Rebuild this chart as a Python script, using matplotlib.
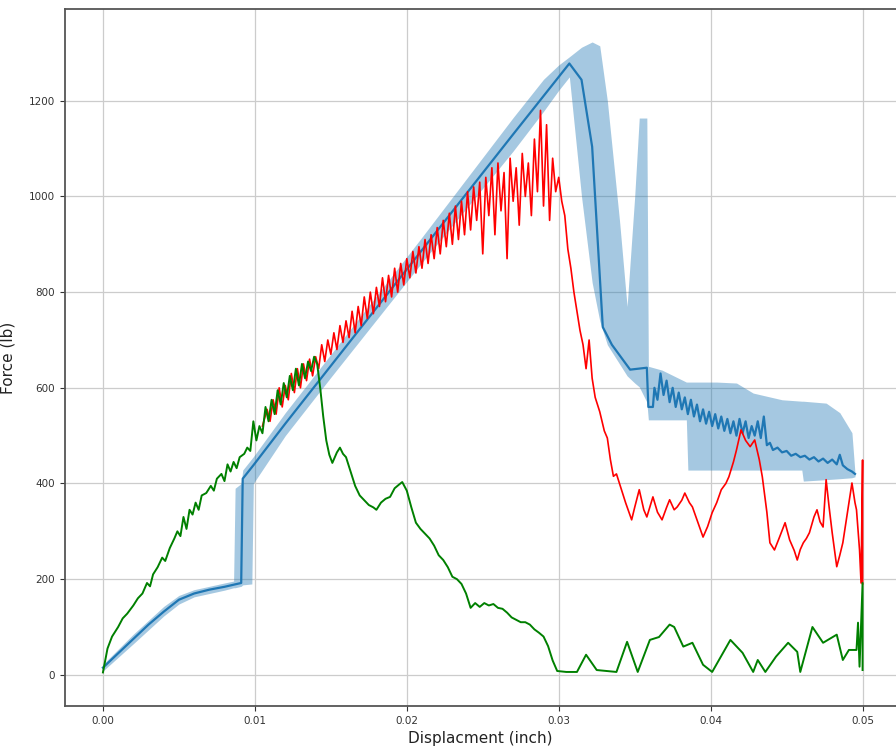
import matplotlib
matplotlib.use('Agg')
import matplotlib.pyplot as plt

# Green test
green_x = [0.0000, 0.0003, 0.0006, 0.0010, 0.0013, 0.0016, 0.0020, 0.0023, 0.0026, 0.0029,
           0.0031, 0.0033, 0.0036, 0.0039, 0.0041, 0.0044, 0.0047, 0.0049, 0.0051, 0.0053,
           0.0055, 0.0057, 0.0059, 0.0061, 0.0063, 0.0065, 0.0068, 0.0071, 0.0073, 0.0075,
           0.0078, 0.0080, 0.0082, 0.0084, 0.0086, 0.0088, 0.0090, 0.0093, 0.0095, 0.0097,
           0.0099, 0.0101, 0.0103, 0.0105, 0.0107, 0.0109, 0.0111, 0.0113, 0.0115, 0.0117,
           0.0119, 0.0121, 0.0123, 0.0125, 0.0127, 0.0129, 0.0131, 0.0133, 0.0135, 0.0137,
           0.0139, 0.0141, 0.0143, 0.0145, 0.0147, 0.0149, 0.0151, 0.0154, 0.0156, 0.0158,
           0.0160, 0.0163, 0.0166, 0.0169, 0.0172, 0.0175, 0.0178, 0.0180, 0.0183, 0.0186,
           0.0189, 0.0192, 0.0195, 0.0197, 0.0200, 0.0203, 0.0206, 0.0209, 0.0212, 0.0215,
           0.0218, 0.0221, 0.0224, 0.0227, 0.0230, 0.0233, 0.0236, 0.0239, 0.0242, 0.0245,
           0.0248, 0.0251, 0.0254, 0.0257, 0.0260, 0.0263, 0.0266, 0.0269, 0.0272, 0.0275,
           0.0278, 0.0281, 0.0284, 0.0287, 0.0290, 0.0293, 0.0296, 0.0299, 0.0305, 0.0312,
           0.0318, 0.0325, 0.0338, 0.0345, 0.0352, 0.0360, 0.0366, 0.0373, 0.0376, 0.0382,
           0.0388, 0.0395, 0.0401, 0.0413, 0.0421, 0.0428, 0.0431, 0.0436, 0.0443, 0.0451,
           0.0457, 0.0459, 0.0467, 0.0474, 0.0483, 0.0487, 0.0491, 0.0496, 0.0497, 0.0498,
           0.0500, 0.0500]
green_y = [5, 55, 80, 100, 118, 128, 145, 160, 170, 192,
           185, 210, 225, 245, 238, 265, 285, 300, 290, 330,
           305, 345, 335, 360, 345, 375, 380, 395, 385, 410,
           420, 405, 440, 425, 445, 432, 455, 462, 475, 468,
           530, 490, 520, 505, 560, 530, 575, 545, 595, 565,
           610, 580, 625, 595, 640, 605, 650, 620, 655, 635,
           665, 650, 600, 540, 490, 460, 443, 465, 475, 462,
           455, 425, 395, 375, 365, 355, 350, 345, 360, 368,
           372, 390, 398, 403, 385, 350, 318, 305, 295, 285,
           270, 250, 240, 225, 205, 200, 190, 170, 140, 150,
           142, 150, 145, 148, 140, 138, 130, 120, 115, 110,
           110, 105, 95, 88, 80, 60, 30, 8, 6, 6,
           42, 10, 6, 69, 6, 73, 79, 105, 100, 59,
           67, 21, 6, 73, 46, 6, 31, 6, 38, 67,
           48, 6, 100, 67, 84, 31, 52, 52, 109, 17,
           192, 10]

# Red test
red_x = [0.0105, 0.0108, 0.0110, 0.0112, 0.0114, 0.0116, 0.0118, 0.0120, 0.0122, 0.0124,
         0.0126, 0.0128, 0.0130, 0.0132, 0.0134, 0.0136, 0.0138, 0.0140, 0.0142, 0.0144,
         0.0146, 0.0148, 0.0150, 0.0152, 0.0154, 0.0156, 0.0158, 0.0160, 0.0162, 0.0164,
         0.0166, 0.0168, 0.0170, 0.0172, 0.0174, 0.0176, 0.0178, 0.0180, 0.0182, 0.0184,
         0.0186, 0.0188, 0.0190, 0.0192, 0.0194, 0.0196, 0.0198, 0.0200, 0.0202, 0.0204,
         0.0206, 0.0208, 0.0210, 0.0212, 0.0214, 0.0216, 0.0218, 0.0220, 0.0222, 0.0224,
         0.0226, 0.0228, 0.0230, 0.0232, 0.0234, 0.0236, 0.0238, 0.0240, 0.0242, 0.0244,
         0.0246, 0.0248, 0.0250, 0.0252, 0.0254, 0.0256, 0.0258, 0.0260, 0.0262, 0.0264,
         0.0266, 0.0268, 0.0270, 0.0272, 0.0274, 0.0276, 0.0278, 0.0280, 0.0282, 0.0284,
         0.0286, 0.0288, 0.0290, 0.0292, 0.0294, 0.0296, 0.0298, 0.0300, 0.0302, 0.0304,
         0.0306, 0.0308, 0.0310, 0.0312, 0.0314, 0.0316, 0.0318, 0.0320, 0.0322, 0.0324,
         0.0327, 0.0330, 0.0332, 0.0334, 0.0336, 0.0338, 0.0340, 0.0344, 0.0348, 0.0350,
         0.0353, 0.0356, 0.0358, 0.0362, 0.0365, 0.0368, 0.0371, 0.0373, 0.0376, 0.0378,
         0.0381, 0.0383, 0.0386, 0.0388, 0.0392, 0.0395, 0.0398, 0.0401, 0.0404, 0.0407,
         0.0410, 0.0412, 0.0415, 0.0417, 0.0420, 0.0423, 0.0426, 0.0429, 0.0432, 0.0434,
         0.0437, 0.0439, 0.0442, 0.0445, 0.0449, 0.0452, 0.0455, 0.0457, 0.0459, 0.0461,
         0.0463, 0.0465, 0.0468, 0.0470, 0.0472, 0.0474, 0.0476, 0.0478, 0.0480, 0.0482,
         0.0483, 0.0485, 0.0487, 0.0490, 0.0493, 0.0495, 0.0496, 0.0498, 0.0499, 0.0500,
         0.0500]
red_y = [520, 555, 530, 575, 545, 600, 560, 605, 575, 630,
         590, 640, 600, 650, 615, 660, 625, 665, 640, 690,
         655, 700, 670, 715, 680, 730, 695, 740, 705, 760,
         715, 770, 730, 790, 745, 800, 755, 810, 770, 830,
         780, 835, 790, 850, 800, 860, 815, 870, 830, 885,
         840, 895, 850, 910, 860, 920, 870, 935, 880, 950,
         895, 965, 900, 980, 910, 990, 920, 1010, 930, 1020,
         950, 1030, 880, 1040, 960, 1060, 920, 1070, 970, 1050,
         870, 1080, 990, 1060, 940, 1090, 1000, 1070, 960, 1120,
         1010, 1180, 980, 1150, 950, 1080, 1010, 1040, 990, 960,
         890, 850, 800, 760, 720, 690, 640, 700, 620, 580,
         550, 510, 495, 450, 415, 420, 400, 360, 324, 350,
         387, 345, 330, 372, 340, 324, 350, 366, 345, 351,
         365, 380, 360, 351, 315, 288, 310, 339, 360, 387,
         400, 414, 445, 470, 512, 490, 477, 491, 450, 414,
         340, 276, 261, 285, 318, 282, 260, 240, 262, 276,
         285, 297, 330, 345, 320, 309, 408, 350, 297, 250,
         226, 250, 276, 339, 401, 360, 345, 261, 192, 449,
         190]

# Blue test: mean line
blue_x = [0.0000, 0.0010, 0.0020, 0.0030, 0.0040, 0.0050, 0.0060, 0.0070, 0.0080, 0.0091,
          0.0092, 0.0099, 0.0120, 0.0150, 0.0180, 0.0210, 0.0240, 0.0270, 0.0290, 0.0300,
          0.0307, 0.0315, 0.0322, 0.0329, 0.0335, 0.0347, 0.0358, 0.0359, 0.0362, 0.0363,
          0.0365, 0.0367, 0.0369, 0.0371, 0.0373, 0.0375, 0.0377, 0.0379, 0.0381, 0.0383,
          0.0385, 0.0387, 0.0389, 0.0391, 0.0393, 0.0395, 0.0397, 0.0399, 0.0401, 0.0403,
          0.0405, 0.0407, 0.0409, 0.0411, 0.0413, 0.0415, 0.0417, 0.0419, 0.0421, 0.0423,
          0.0425, 0.0427, 0.0429, 0.0431, 0.0433, 0.0435, 0.0437, 0.0439, 0.0441, 0.0444,
          0.0447, 0.0450, 0.0453, 0.0456, 0.0459, 0.0462, 0.0465, 0.0468, 0.0471, 0.0474,
          0.0477, 0.0480, 0.0483, 0.0485, 0.0487, 0.0490, 0.0493, 0.0495]
blue_y = [15, 45, 75, 105, 132, 157, 170, 178, 184, 192,
          410, 438, 525, 646, 767, 888, 1009, 1130, 1210, 1250,
          1278, 1244, 1104, 727, 690, 638, 642, 560, 560, 600,
          575, 630, 585, 615, 570, 600, 560, 590, 555, 580,
          545, 575, 540, 565, 530, 555, 525, 550, 520, 545,
          515, 540, 510, 535, 505, 530, 500, 535, 505, 530,
          495, 520, 500, 530, 495, 540, 480, 485, 470, 475,
          465, 468, 458, 462, 455, 458, 450, 455, 446, 452,
          443, 450, 440, 460, 438, 430, 425, 420]

# Blue test: spread band
band_x = [0.0000, 0.0020, 0.0040, 0.0050, 0.0060, 0.0080, 0.0086, 0.0087, 0.0091, 0.0092,
          0.0098, 0.0099, 0.0120, 0.0150, 0.0180, 0.0210, 0.0240, 0.0270, 0.0290, 0.0300,
          0.0307, 0.0315, 0.0322, 0.0327, 0.0332, 0.0340, 0.0345, 0.0350, 0.0353, 0.0358,
          0.0359, 0.0368, 0.0384, 0.0385, 0.0404, 0.0417, 0.0428, 0.0447, 0.0460, 0.0461,
          0.0476, 0.0485, 0.0493, 0.0495]
band_lo = [8, 65, 123, 148, 163, 177, 182, 182, 185, 188,
           190, 400, 500, 622, 742, 862, 978, 1095, 1178, 1222,
           1250, 1000, 820, 740, 690, 650, 625, 610, 602, 570,
           533, 533, 533, 428, 428, 428, 428, 428, 428, 405,
           408, 410, 412, 414]
band_hi = [22, 85, 143, 166, 178, 192, 196, 390, 400, 428,
           452, 456, 548, 670, 792, 915, 1040, 1165, 1245, 1275,
           1292, 1312, 1323, 1315, 1200, 950, 770, 1000, 1164, 1164,
           645, 637, 612, 612, 612, 610, 589, 575, 572, 572,
           568, 548, 506, 422]

x_ticks = [0.00, 0.01, 0.02, 0.03, 0.04, 0.05]
y_ticks = [0, 200, 400, 600, 800, 1000, 1200]

fig = plt.figure(figsize=(8.96, 7.47), dpi=100)
ax = fig.add_axes([0.0725, 0.055, 0.9275, 0.933])

ax.fill_between(band_x, band_lo, band_hi, color='#1f77b4', alpha=0.4, linewidth=0)
ax.plot(blue_x, blue_y, color='#1f77b4', linewidth=1.6)
ax.plot(red_x, red_y, color='red', linewidth=1.2)
ax.plot(green_x, green_y, color='green', linewidth=1.4)

ax.set_xlim(-0.0025, 0.0522)
ax.set_ylim(-65, 1392)
ax.set_xticks(x_ticks)
ax.set_xticklabels([f"{t:.2f}" for t in x_ticks])
ax.set_yticks(y_ticks)
ax.tick_params(labelsize=7.5, colors='#333333', length=3.5)
ax.grid(True, color='#cccccc', linewidth=0.9)
ax.set_axisbelow(True)
for side in ['left', 'bottom', 'top']:
    ax.spines[side].set_color('#555555')
    ax.spines[side].set_linewidth(1.3)
ax.spines['right'].set_visible(False)

ax.set_xlabel('Displacment (inch)', fontsize=11, color='#222222', labelpad=4)
ax.set_ylabel('Force (lb)', fontsize=11, color='#222222', labelpad=10)

fig.savefig('out.png', dpi=100)
